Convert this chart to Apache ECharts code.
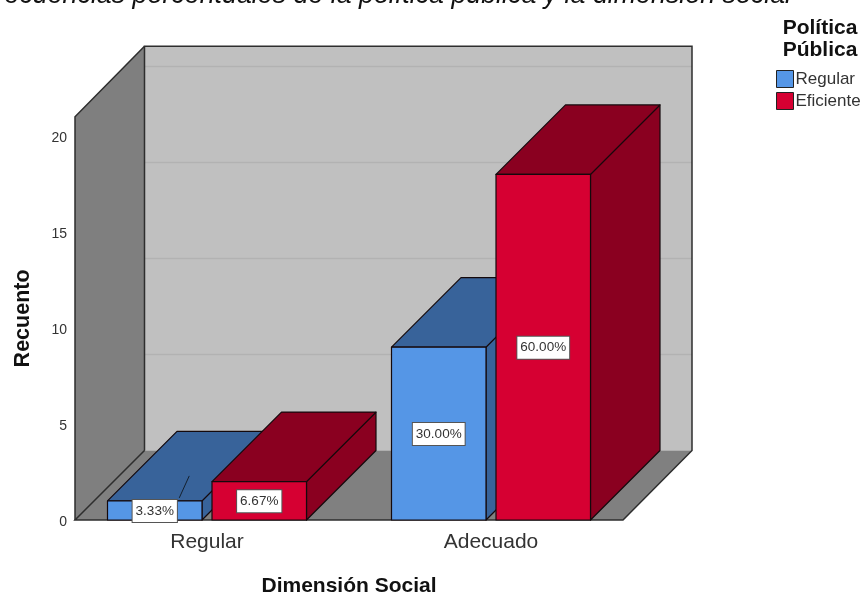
<!DOCTYPE html>
<html>
<head>
<meta charset="utf-8">
<style>html,body{margin:0;padding:0;background:#fff}#c{width:864px;height:592px}</style>
<script src="https://cdn.jsdelivr.net/npm/echarts@6/dist/echarts.min.js"></script>
</head>
<body>
<div id="c"></div>
<script>
var categories = ['Regular', 'Adecuado'];
var regularValues = [1, 9];
var eficienteValues = [2, 18];
var regularLabels = ['3.33%', '30.00%'];
var eficienteLabels = ['6.67%', '60.00%'];
var gridValues = [5, 10, 15, 20];
var seriesNames = ['Regular', 'Eficiente'];

var DX = 69.5, DY = 69.5, BAR_W = 94.5, GAP = 10, INSET = 10;
var FONT = '"Liberation Sans", Arial, sans-serif';

function renderWalls(params, api) {
  var cs = params.coordSys;
  var x0 = cs.x + INSET, x1 = cs.x + cs.width - INSET, yT = cs.y, yB = cs.y + cs.height;
  var bx0 = x0 + DX, bx1 = x1 + DX - 0.5, byT = yT - DY - 1, byB = yB - DY;
  var kids = [
    {type:'polygon', shape:{points:[[bx0,byT],[bx1,byT],[bx1,byB],[bx0,byB]]}, style:{fill:'#c0c0c0'}},
    {type:'polygon', shape:{points:[[x0,yB],[bx0,byB],[bx1,byB],[x1,yB]]}, style:{fill:'#808080'}},
    {type:'polygon', shape:{points:[[x0,yT],[bx0,byT],[bx0,byB],[x0,yB]]}, style:{fill:'#7f7f7f'}}
  ];
  gridValues.forEach(function (v) {
    var y = api.coord([0, v])[1] - DY;
    kids.push({type:'line', shape:{x1:bx0,y1:y,x2:bx1,y2:y}, style:{stroke:'#b2b2b2', lineWidth:1.5}});
  });
  kids.push({type:'polyline', shape:{points:[[bx0,byB],[bx0,byT],[bx1,byT],[bx1,byB],[x1,yB],[x0,yB],[bx0,byB]]}, style:{fill:null, stroke:'#2e2e2e', lineWidth:1.5}});
  kids.push({type:'polyline', shape:{points:[[x0,yB],[x0,yT],[bx0,byT]]}, style:{fill:null, stroke:'#2e2e2e', lineWidth:1.5}});
  return {type:'group', children:kids};
}

function barRenderer(side, front, dark, labels) {
  return function (params, api) {
    var idx = api.value(0), val = api.value(1);
    var top = api.coord([idx, val]), base = api.coord([idx, 0]);
    var x0 = side < 0 ? top[0] - GAP / 2 - BAR_W : top[0] + GAP / 2;
    var x1 = x0 + BAR_W, yT = top[1], yB = base[1];
    var edge = {stroke:'#14090c', lineWidth:1.2, lineJoin:'round'};
    function poly(pts, fill) {
      return {type:'polygon', shape:{points:pts}, style:Object.assign({fill:fill}, edge)};
    }
    var cx = (x0 + x1) / 2, cy = (yT + yB) / 2;
    var kids = [
      poly([[x1,yT],[x1+DX,yT-DY],[x1+DX,yB-DY],[x1,yB]], dark),
      poly([[x0,yT],[x0+DX,yT-DY],[x1+DX,yT-DY],[x1,yT]], dark),
      poly([[x0,yT],[x1,yT],[x1,yB],[x0,yB]], front)
    ];
    if (val === 1) {
      kids.push({type:'line', shape:{x1:cx+24.5,y1:cy-12.5,x2:cx+34.5,y2:cy-34.5}, style:{stroke:'#14202e', lineWidth:1}});
    }
    kids.push({type:'text', z2:50, style:{
      text:labels[idx], x:cx, y:cy + 0.5, align:'center', verticalAlign:'middle',
      fill:'#333', font:'13.5px ' + FONT, backgroundColor:'#fff',
      borderColor:'#555', borderWidth:1, padding:[4,3,4,3]
    }});
    return {type:'group', children:kids};
  };
}

function toData(values) { return values.map(function (v, i) { return [i, v]; }); }

var chart = echarts.init(document.getElementById('c'), null, {renderer:'canvas'});
chart.setOption({
  animation:false,
  backgroundColor:'#fff',
  title:[
    {text:'Frecuencias porcentuales de la política pública y la dimensión social', left:786, top:-23, textAlign:'right',
     textStyle:{fontFamily:FONT, fontStyle:'italic', fontWeight:'normal', fontSize:26.8, color:'#111'}},
    {text:'Política\nPública', left:815, top:12, textAlign:'center',
     textStyle:{fontFamily:FONT, fontWeight:'bold', fontSize:21, lineHeight:22, color:'#111'}}
  ],
  legend:{
    orient:'vertical', left:776, top:70, itemWidth:17, itemHeight:17, itemGap:4, padding:0, icon:'rect',
    data:seriesNames, itemStyle:{borderColor:'#222', borderWidth:1},
    textStyle:{fontFamily:FONT, fontSize:17, color:'#333', padding:[3,0,0,-3]}
  },
  grid:{left:65, right:231, top:116.8, bottom:72, containLabel:false, outerBoundsMode:'none'},
  xAxis:{
    type:'category', data:categories,
    axisLine:{show:false}, axisTick:{show:false}, splitLine:{show:false},
    axisLabel:{fontFamily:FONT, fontSize:21, color:'#333', margin:12},
    name:'Dimensión Social', nameLocation:'middle', nameGap:56,
    nameTextStyle:{fontFamily:FONT, fontWeight:'bold', fontSize:21, color:'#111'}
  },
  yAxis:{
    type:'value', min:0, max:21, interval:5, offset:-10,
    axisLine:{show:false}, axisTick:{show:false}, splitLine:{show:false},
    axisLabel:{margin:8, showMaxLabel:false, formatter:'{t|{value}}',
      rich:{t:{fontFamily:FONT, fontSize:14, color:'#333', padding:[5,0,0,0]}}},
    name:'Recuento', nameLocation:'middle', nameGap:41,
    nameTextStyle:{fontFamily:FONT, fontWeight:'bold', fontSize:21.5, color:'#111'}
  },
  series:[
    {type:'custom', name:'walls', silent:true, clip:false, z:1, data:[[0,0]], renderItem:renderWalls, encode:{x:0,y:1}},
    {type:'custom', name:seriesNames[0], clip:false, z:2, itemStyle:{color:'#5596e6'},
     data:toData(regularValues).slice(0,1), renderItem:barRenderer(-1,'#5596e6','#38639a',regularLabels), encode:{x:0,y:1}},
    {type:'custom', name:seriesNames[1], clip:false, z:3, itemStyle:{color:'#d60032'},
     data:toData(eficienteValues).slice(0,1), renderItem:barRenderer(1,'#d60032','#8a0020',eficienteLabels), encode:{x:0,y:1}},
    {type:'custom', name:seriesNames[0], clip:false, z:4, itemStyle:{color:'#5596e6'},
     data:toData(regularValues).slice(1), renderItem:barRenderer(-1,'#5596e6','#38639a',regularLabels), encode:{x:0,y:1}},
    {type:'custom', name:seriesNames[1], clip:false, z:5, itemStyle:{color:'#d60032'},
     data:toData(eficienteValues).slice(1), renderItem:barRenderer(1,'#d60032','#8a0020',eficienteLabels), encode:{x:0,y:1}}
  ]
});
</script>
</body>
</html>
